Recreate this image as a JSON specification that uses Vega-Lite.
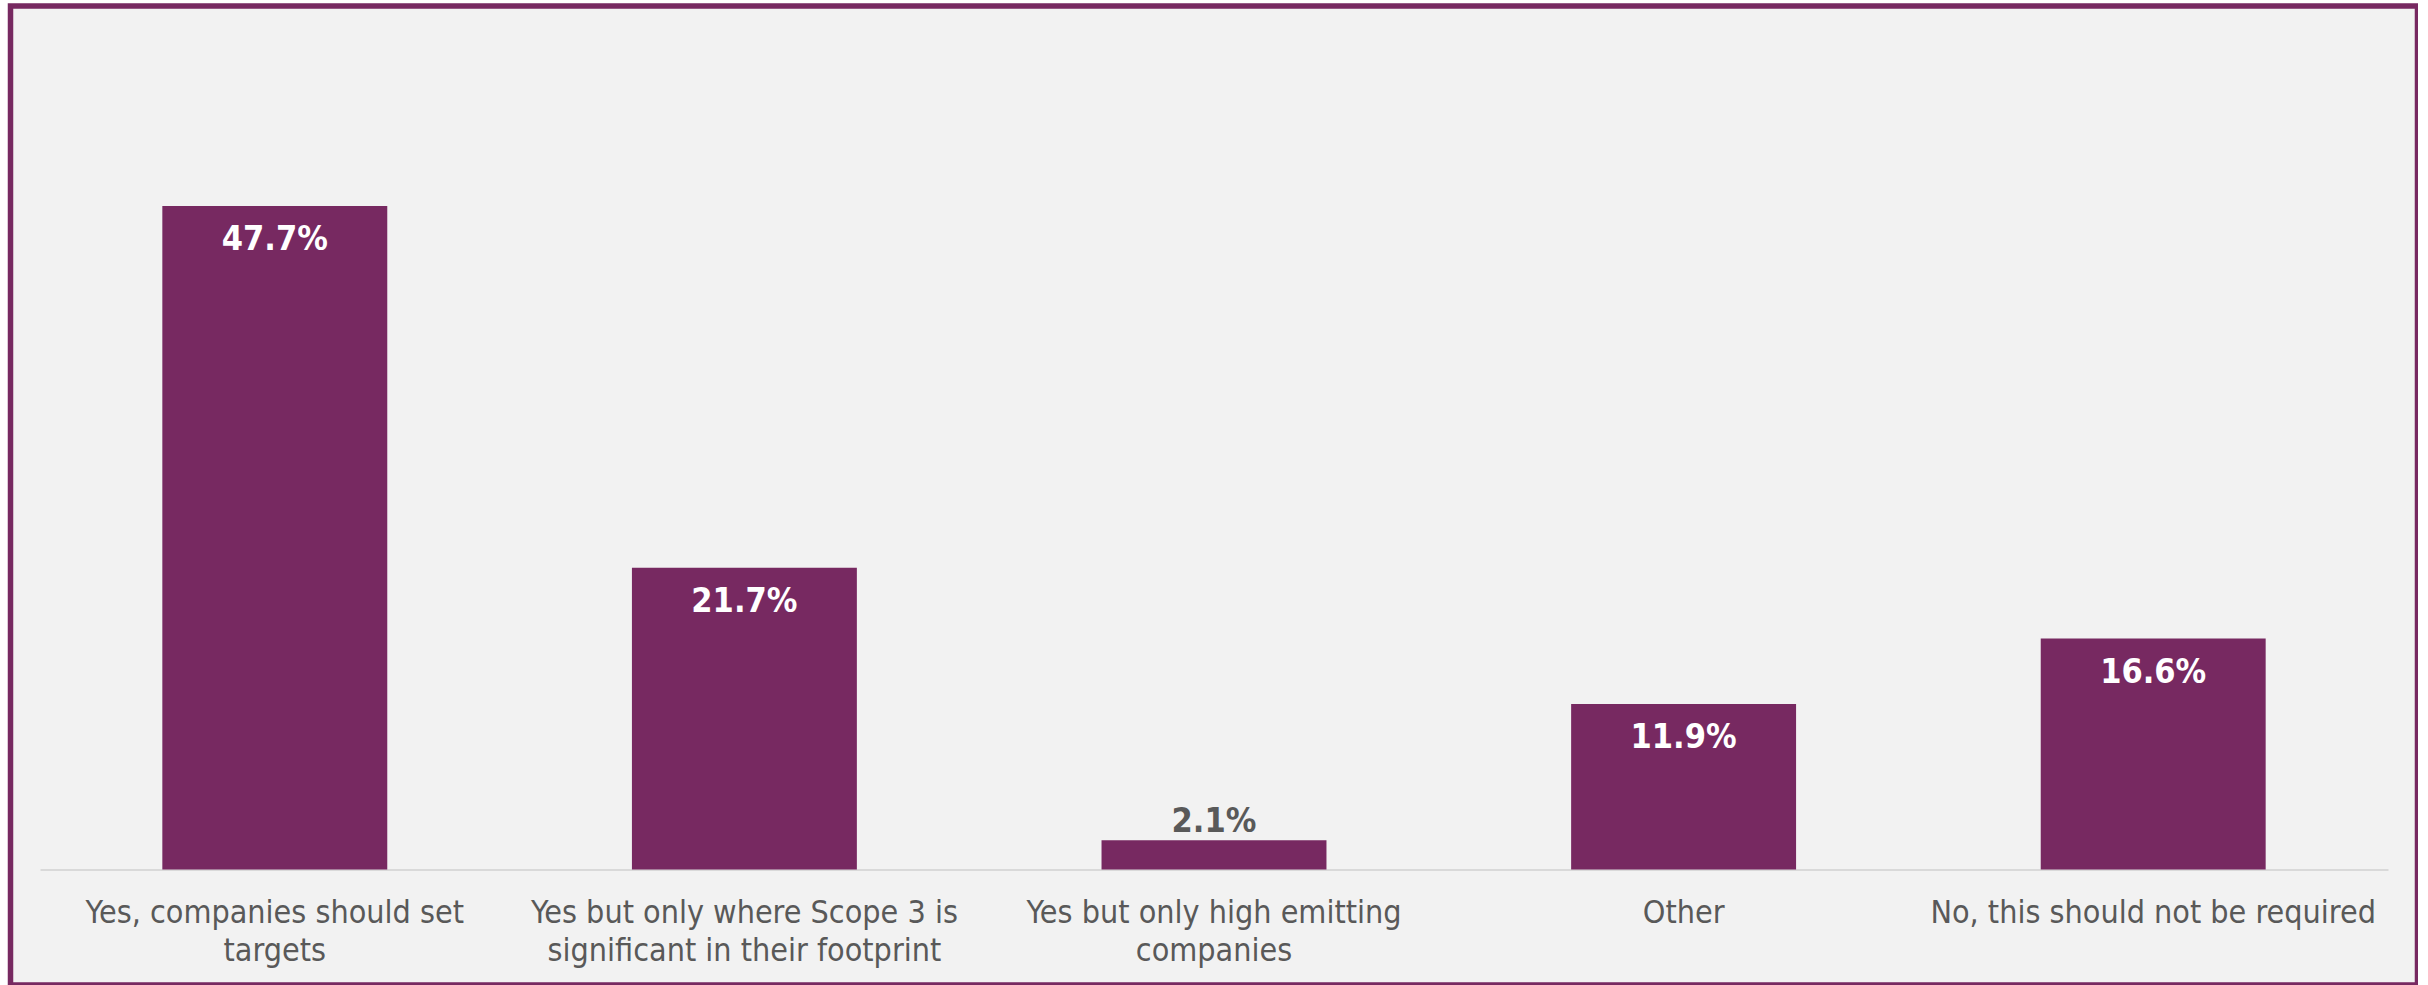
{
  "$schema": "https://vega.github.io/schema/vega-lite/v6.json",
  "width": 2407,
  "height": 979,
  "autosize": {"type": "none"},
  "padding": {"left": 10.5, "top": 6, "right": 0, "bottom": 0},
  "background": "#FFFFFF",
  "config": {
    "view": {"fill": "#F2F2F2", "stroke": "#772961", "strokeWidth": 5.5},
    "font": "DejaVu Sans Condensed"
  },
  "data": {
    "values": [
      {"answer": "Yes, companies should set targets", "share": 0.477},
      {"answer": "Yes but only where Scope 3 is significant in their footprint", "share": 0.217},
      {"answer": "Yes but only high emitting companies", "share": 0.021},
      {"answer": "Other", "share": 0.119},
      {"answer": "No, this should not be required", "share": 0.166}
    ]
  },
  "encoding": {
    "x": {
      "field": "answer",
      "type": "nominal",
      "sort": null,
      "scale": {"range": [29.5, 2377.5], "paddingInner": 0.521, "paddingOuter": 0.2605},
      "axis": {
        "title": null,
        "orient": "bottom",
        "offset": -115.5,
        "ticks": false,
        "domainColor": "#D9D9D9",
        "domainWidth": 2,
        "labelColor": "#595959",
        "labelFont": "DejaVu Sans Condensed",
        "labelFontSize": 32,
        "labelLineHeight": 37.5,
        "labelPadding": 28,
        "labelAngle": 0,
        "labelLimit": 0,
        "labelOverlap": false,
        "labelBound": false,
        "labelFlush": false,
        "labelExpr": "datum.value == 'Yes, companies should set targets' ? ['Yes, companies should set', 'targets'] : datum.value == 'Yes but only where Scope 3 is significant in their footprint' ? ['Yes but only where Scope 3 is', 'significant in their footprint'] : datum.value == 'Yes but only high emitting companies' ? ['Yes but only high emitting', 'companies'] : datum.value"
      }
    },
    "y": {
      "field": "share",
      "type": "quantitative",
      "scale": {"domain": [-0.08303, 0.62077], "nice": false, "zero": false},
      "axis": null
    }
  },
  "layer": [
    {"mark": {"type": "bar", "color": "#772961"}, "encoding": {"y2": {"datum": 0}}},
    {
      "transform": [{"filter": "datum.share >= 0.05"}],
      "mark": {"type": "text", "baseline": "alphabetic", "dy": 44.5, "color": "#FFFFFF", "fontWeight": "bold", "fontSize": 34, "font": "DejaVu Sans Condensed"},
      "encoding": {"text": {"field": "share", "type": "quantitative", "format": ".1%"}}
    },
    {
      "transform": [{"filter": "datum.share < 0.05"}],
      "mark": {"type": "text", "baseline": "alphabetic", "dy": -8, "color": "#595959", "fontWeight": "bold", "fontSize": 34, "font": "DejaVu Sans Condensed"},
      "encoding": {"text": {"field": "share", "type": "quantitative", "format": ".1%"}}
    }
  ]
}
